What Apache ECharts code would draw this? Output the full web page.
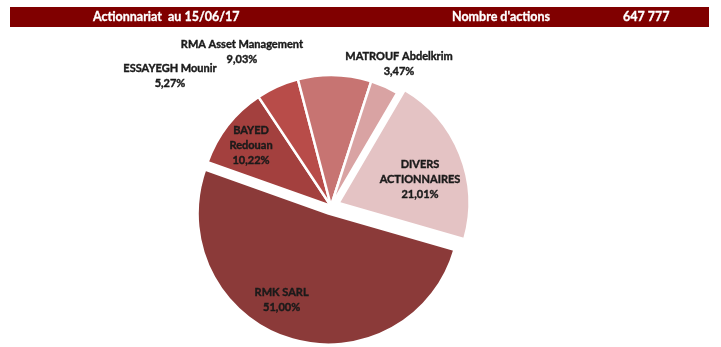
<!DOCTYPE html>
<html>
<head>
<meta charset="utf-8">
<script src="https://cdn.jsdelivr.net/npm/echarts@6/dist/echarts.min.js"></script>
<style>
html,body{margin:0;padding:0;background:#fff;}
#chart{width:721px;height:347px;}
</style>
</head>
<body>
<div id="chart"></div>
<script>
// ---- data ----
const headerTitle = 'Actionnariat  au 15/06/17';
const headerSharesLabel = "Nombre d'actions";
const headerSharesValue = '647 777';
const shareholders = ['RMK SARL', 'BAYED Redouan', 'ESSAYEGH Mounir', 'RMA Asset Management', 'MATROUF Abdelkrim', 'DIVERS ACTIONNAIRES'];
const labelNames = ['RMK SARL', 'BAYED\nRedouan', 'ESSAYEGH Mounir', 'RMA Asset Management', 'MATROUF Abdelkrim', 'DIVERS\nACTIONNAIRES'];
const sharePercent = [51.00, 10.22, 5.27, 9.03, 3.47, 21.01];
const exploded = [true, false, false, false, false, true];

// ---- style ----
const colors = ['#8B3A39', '#A3403E', '#B84C49', '#C77472', '#D9A3A3', '#E4C3C4'];
const labelShift = [[-25, 21], [-25, -18], [-132, -68], [-90, -86], [41, -80], [19, 2]];

const chart = echarts.init(document.getElementById('chart'), null, {renderer: 'canvas'});

const data = shareholders.map((n, i) => ({
  name: n,
  value: sharePercent[i],
  selected: exploded[i],
  itemStyle: {color: colors[i]},
  label: {formatter: labelNames[i] + '\n' + sharePercent[i].toFixed(2).replace('.', ',') + '%'}
}));

const headerFont = 'bold 12.5px Lato';
chart.setOption({
  animation: false,
  backgroundColor: '#ffffff',
  graphic: [
    {type: 'rect', shape: {x: 10, y: 7, width: 699, height: 20}, style: {fill: '#800000'}},
    {type: 'text', x: 93, y: 17, style: {text: headerTitle, fill: '#ffffff', font: headerFont, textVerticalAlign: 'middle', stroke: '#ffffff', lineWidth: 0.3}},
    {type: 'text', x: 452, y: 17, style: {text: headerSharesLabel, fill: '#ffffff', font: headerFont, textVerticalAlign: 'middle', stroke: '#ffffff', lineWidth: 0.3}},
    {type: 'text', x: 623, y: 17, style: {text: headerSharesValue, fill: '#ffffff', font: headerFont, textVerticalAlign: 'middle', stroke: '#ffffff', lineWidth: 0.3}}
  ],
  series: [{
    type: 'pie',
    center: [331, 206],
    radius: [0, 131],
    startAngle: -16,
    clockwise: true,
    selectedMode: 'multiple',
    selectedOffset: 8,
    avoidLabelOverlap: false,
    itemStyle: {borderColor: '#ffffff', borderWidth: 2.5},
    label: {
      show: true,
      position: 'inside',
      color: '#1a1a1a',
      fontFamily: 'Lato',
      fontWeight: 'bold',
      fontSize: 11,
      lineHeight: 15,
      align: 'center',
      textBorderColor: '#1a1a1a',
      textBorderWidth: 0.4
    },
    labelLine: {show: false},
    labelLayout: function (p) {
      const s = labelShift[p.dataIndex];
      return {dx: s[0] - 1, dy: s[1]};
    },
    emphasis: {disabled: true},
    data: data
  }]
});
</script>
</body>
</html>
